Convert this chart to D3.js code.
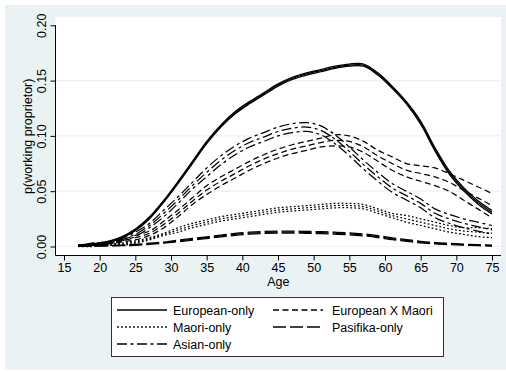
<!DOCTYPE html>
<html>
<head>
<meta charset="utf-8">
<script src="https://cdn.jsdelivr.net/npm/d3@7"></script>
<style>
  html, body { margin: 0; padding: 0; background: #ffffff; }
  svg { display: block; font-family: "Liberation Sans", Arial, Helvetica, sans-serif; }
</style>
</head>
<body>
<svg id="chart" width="506" height="373"></svg>
<script>
// Predicted probability of being a working proprietor by age, with 95% CI bands
const ages = [17,19,21,23,25,27,29,31,33,35,37,39,41,43,45,47,49,51,53,55,57,59,61,63,65,67,69,71,73,75];

const europeanEst = [0.001,0.002,0.004,0.008,0.015,0.026,0.041,0.058,0.076,0.094,0.109,0.121,0.130,0.138,0.146,0.152,0.156,0.159,0.162,0.164,0.164,0.156,0.144,0.130,0.112,0.088,0.067,0.052,0.040,0.031];
const europeanLo  = [0.001,0.0015,0.0035,0.0074,0.0142,0.0251,0.0401,0.0570,0.0750,0.0930,0.1080,0.1200,0.1290,0.1370,0.1450,0.1510,0.1550,0.1580,0.1610,0.1630,0.1630,0.1550,0.1430,0.1290,0.1105,0.0865,0.0655,0.0505,0.0385,0.0295];
const europeanHi  = [0.001,0.0025,0.0045,0.0086,0.0158,0.0269,0.0419,0.0590,0.0770,0.0950,0.1100,0.1220,0.1310,0.1390,0.1470,0.1530,0.1570,0.1600,0.1630,0.1650,0.1650,0.1570,0.1450,0.1310,0.1135,0.0895,0.0685,0.0535,0.0415,0.0325];

const euroMaoriEst = [0.001,0.002,0.003,0.005,0.008,0.012,0.020,0.030,0.041,0.051,0.059,0.066,0.073,0.079,0.084,0.088,0.091,0.094,0.096,0.095,0.090,0.082,0.075,0.069,0.066,0.063,0.058,0.051,0.044,0.037];
const euroMaoriLo  = [0.001,0.001,0.002,0.004,0.006,0.010,0.017,0.027,0.038,0.047,0.055,0.062,0.069,0.075,0.080,0.084,0.087,0.090,0.091,0.090,0.085,0.077,0.069,0.063,0.059,0.055,0.050,0.042,0.034,0.026];
const euroMaoriHi  = [0.001,0.003,0.004,0.006,0.010,0.014,0.023,0.033,0.044,0.055,0.063,0.070,0.077,0.083,0.088,0.092,0.095,0.098,0.101,0.100,0.095,0.087,0.081,0.075,0.073,0.071,0.066,0.060,0.054,0.048];

const maoriEst = [0.000,0.001,0.001,0.002,0.004,0.007,0.011,0.015,0.019,0.022,0.025,0.027,0.029,0.031,0.033,0.034,0.035,0.036,0.037,0.037,0.036,0.032,0.028,0.025,0.022,0.019,0.016,0.014,0.013,0.012];
const maoriLo  = [0.000,0.000,0.001,0.001,0.003,0.006,0.010,0.013,0.017,0.020,0.023,0.025,0.027,0.029,0.031,0.032,0.033,0.034,0.035,0.035,0.034,0.030,0.026,0.022,0.019,0.016,0.013,0.011,0.009,0.008];
const maoriHi  = [0.000,0.001,0.002,0.003,0.005,0.008,0.012,0.017,0.021,0.024,0.027,0.029,0.031,0.033,0.035,0.036,0.037,0.038,0.039,0.039,0.038,0.034,0.030,0.028,0.025,0.022,0.019,0.017,0.017,0.016];

const pasifikaEst = [0.0003,0.0005,0.0007,0.001,0.0015,0.0025,0.0035,0.005,0.0065,0.008,0.0095,0.011,0.012,0.0127,0.013,0.013,0.0128,0.0125,0.012,0.0115,0.0105,0.009,0.007,0.0055,0.004,0.003,0.0023,0.0017,0.0012,0.0008];
const pasifikaLo  = [0.0002,0.0003,0.0005,0.0007,0.001,0.002,0.003,0.0043,0.0057,0.0072,0.0087,0.0101,0.0111,0.0118,0.0121,0.0121,0.0119,0.0116,0.0111,0.0106,0.0096,0.0081,0.0062,0.0047,0.0033,0.0024,0.0017,0.0012,0.0007,0.0004];
const pasifikaHi  = [0.0004,0.0007,0.0009,0.0013,0.002,0.003,0.004,0.0057,0.0073,0.0088,0.0103,0.0119,0.0129,0.0136,0.0139,0.0139,0.0137,0.0134,0.0129,0.0124,0.0114,0.0099,0.0078,0.0063,0.0047,0.0036,0.0029,0.0022,0.0017,0.0012];

const asianEst = [0.001,0.002,0.003,0.006,0.011,0.019,0.030,0.042,0.055,0.067,0.078,0.087,0.094,0.099,0.104,0.107,0.108,0.105,0.097,0.086,0.074,0.063,0.053,0.046,0.039,0.030,0.025,0.021,0.018,0.015];
const asianLo  = [0.001,0.001,0.002,0.005,0.009,0.017,0.027,0.039,0.052,0.063,0.074,0.083,0.090,0.095,0.100,0.103,0.104,0.101,0.093,0.082,0.070,0.059,0.049,0.042,0.035,0.026,0.021,0.017,0.014,0.011];
const asianHi  = [0.001,0.003,0.004,0.007,0.013,0.021,0.033,0.045,0.058,0.071,0.082,0.091,0.098,0.103,0.108,0.111,0.112,0.109,0.101,0.090,0.078,0.067,0.057,0.050,0.043,0.034,0.029,0.025,0.022,0.019];

const groupNames = ["European-only", "European X Maori", "Maori-only", "Pasifika-only", "Asian-only"];
const xTicks = [15,20,25,30,35,40,45,50,55,60,65,70,75];
const yTicks = [0, 0.05, 0.10, 0.15, 0.20];

const groups = [
  { name: groupNames[0], est: europeanEst,  lo: europeanLo,  hi: europeanHi,  dash: null },
  { name: groupNames[1], est: euroMaoriEst, lo: euroMaoriLo, hi: euroMaoriHi, dash: "6,3.5" },
  { name: groupNames[2], est: maoriEst,     lo: maoriLo,     hi: maoriHi,     dash: "1.8,2.2" },
  { name: groupNames[3], est: pasifikaEst,  lo: pasifikaLo,  hi: pasifikaHi,  dash: "13,4" },
  { name: groupNames[4], est: asianEst,     lo: asianLo,     hi: asianHi,     dash: "10,3.5,3,3.5" }
];

const svg = d3.select("#chart");
const bg = "#eaf2f3";

// graph region
svg.append("rect").attr("x", 5).attr("y", 5).attr("width", 501).attr("height", 365).attr("fill", bg);
// plot region
const plot = { left: 55.5, right: 501, top: 17, bottom: 255.5 };
svg.append("rect").attr("x", plot.left).attr("y", plot.top)
  .attr("width", plot.right - plot.left).attr("height", plot.bottom - plot.top).attr("fill", "#ffffff");

const x = d3.scaleLinear().domain([15, 75]).range([64, 492]);
const y = d3.scaleLinear().domain([0, 0.20]).range([246.5, 25.3]);

// horizontal grid
svg.append("g").selectAll("line").data(yTicks.slice(0, 4)).join("line")
  .attr("x1", plot.left).attr("x2", plot.right)
  .attr("y1", d => y(d)).attr("y2", d => y(d))
  .attr("stroke", bg).attr("stroke-width", 1.2);

// curves: lower bound, upper bound, then point estimate, all in the group's pattern
const line = d3.line().x((d, i) => x(ages[i])).y(d => y(d)).curve(d3.curveCatmullRom);
const curvesG = svg.append("g");
groups.forEach(g => {
  [g.lo, g.hi, g.est].forEach(arr => {
    curvesG.append("path").datum(arr)
      .attr("d", line)
      .attr("fill", "none").attr("stroke", "#000")
      .attr("stroke-width", 1.25)
      .attr("stroke-dasharray", g.dash);
  });
});

// axes
const fontSize = "12.5px";
const yAxis = d3.axisLeft(y).tickValues(yTicks).tickSize(5).tickFormat(d3.format(".2f"));
const yg = svg.append("g").attr("transform", `translate(${plot.left},0)`).call(yAxis);
yg.select(".domain").attr("d", `M0,${y(0.2)}V${plot.bottom}`).attr("stroke", "#000");
yg.selectAll(".tick line").attr("stroke", "#000");
yg.selectAll(".tick text")
  .attr("x", null).attr("dy", null)
  .attr("transform", "translate(-10,0) rotate(-90)")
  .attr("text-anchor", "middle")
  .attr("fill", "#000").style("font-size", fontSize).style("font-family", "Liberation Sans, Arial, sans-serif");

const xAxis = d3.axisBottom(x).tickValues(xTicks).tickSize(5).tickFormat(d3.format("d"));
const xg = svg.append("g").attr("transform", `translate(0,${plot.bottom})`).call(xAxis);
xg.select(".domain").attr("d", `M${plot.left},0H${plot.right}`).attr("stroke", "#000");
xg.selectAll(".tick line").attr("stroke", "#000");
xg.selectAll(".tick text").attr("y", 8).attr("dy", "0.71em")
  .attr("fill", "#000").style("font-size", fontSize).style("font-family", "Liberation Sans, Arial, sans-serif");

// axis titles
svg.append("text").attr("x", (plot.left + plot.right) / 2).attr("y", 286)
  .attr("text-anchor", "middle").style("font-size", fontSize).text("Age");
svg.append("text").attr("transform", `translate(31.5,${(plot.top + plot.bottom) / 2}) rotate(-90)`)
  .attr("text-anchor", "middle").style("font-size", fontSize).text("p(working proprietor)");

// legend
const leg = svg.append("g");
leg.append("rect").attr("x", 111.5).attr("y", 297.5).attr("width", 332).attr("height", 59)
  .attr("fill", "#fff").attr("stroke", "#333").attr("stroke-width", 1);
const legPos = [
  { kx: 117, tx: 173, ry: 310 },
  { kx: 273, tx: 332, ry: 310 },
  { kx: 117, tx: 173, ry: 327 },
  { kx: 273, tx: 332, ry: 327 },
  { kx: 117, tx: 173, ry: 344 }
];
groups.forEach((g, i) => {
  const p = legPos[i];
  leg.append("line").attr("x1", p.kx).attr("x2", p.kx + 50).attr("y1", p.ry).attr("y2", p.ry)
    .attr("stroke", "#000").attr("stroke-width", 1.3).attr("stroke-dasharray", g.dash);
  leg.append("text").attr("x", p.tx).attr("y", p.ry + 4.5).style("font-size", fontSize).text(g.name);
});
</script>
</body>
</html>
